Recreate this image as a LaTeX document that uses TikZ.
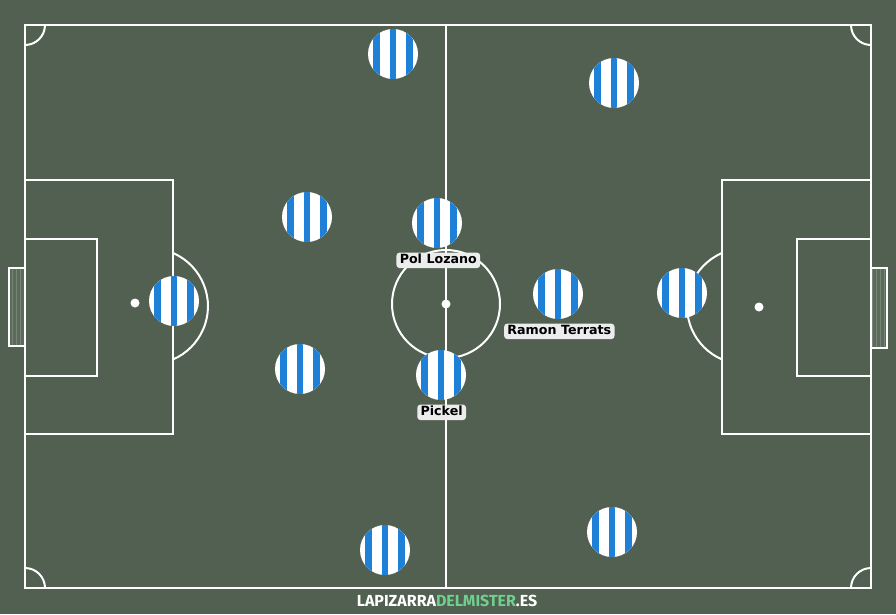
\documentclass[tikz,border=0pt]{standalone}
\usepackage{fontspec}
\usepackage[dvipsnames,usenames]{xcolor}
\usetikzlibrary{positioning}
\newfontfamily\tagfont{DejaVu Sans}
\newfontfamily\markfont{Fira Sans}
\definecolor{pitch}{RGB}{81,96,80}
\definecolor{kitblue}{RGB}{30,128,214}
\definecolor{tagfill}{RGB}{236,236,236}
\definecolor{markgreen}{RGB}{112,206,142}

\begin{document}
\begin{tikzpicture}[x=0.75pt,y=-0.75pt,
    line/.style={draw=white,line width=1.5pt},
    net/.style={draw=white,line width=1pt,fill=white!6!pitch},
    player/.style={circle,fill=white,minimum size=37.5pt,inner sep=0pt,
      path picture={\foreach \d in {-16.5,0,16.5}
        \fill[kitblue] ([xshift=\d*0.75pt-2.3pt]path picture bounding box.north)
        rectangle ([xshift=\d*0.75pt+2.3pt]path picture bounding box.south);}},
    tag/.style={fill=tagfill,rounded corners=2.5pt,inner xsep=2.5pt,inner ysep=1pt,
      text height=7.5pt,text depth=2.2pt,font=\tagfont\bfseries\fontsize{9.5}{10}\selectfont}]
    \fill[pitch] (0,0) rectangle (896,614);
    \useasboundingbox (0,0) rectangle (896,614);
    \draw[net] (9,268) rectangle (25,346);
    \draw[net] (871,268) rectangle (887,348);
    \draw[white,opacity=0.18,line width=0.4pt,step=4] (10,269) grid (24,345);
    \draw[white,opacity=0.18,line width=0.4pt,step=4] (872,269) grid (886,347);
    \draw[line] (25,25) rectangle (871,588);
    \draw[line] (446,25) -- (446,588);
    \draw[line] (446,304) circle[radius=54];
    \fill[white] (446,304) circle[radius=4.5];
    \draw[line] (25,180) rectangle (173,434);
    \draw[line] (25,239) rectangle (97,376);
    \draw[line] (722,180) rectangle (871,434);
    \draw[line] (797,239) rectangle (871,376);
    \fill[white] (135,303) circle[radius=4.5];
    \fill[white] (759,307) circle[radius=4.5];
    \draw[line] (173,253) arc[start angle=-66.6,end angle=66.6,radius=58];
    \draw[line] (722,253) arc[start angle=246.6,end angle=113.4,radius=58];
    \draw[line] (45,25) arc[start angle=0,end angle=90,radius=20];
    \draw[line] (851,25) arc[start angle=180,end angle=90,radius=20];
    \draw[line] (45,588) arc[start angle=0,end angle=-90,radius=20];
    \draw[line] (851,588) arc[start angle=180,end angle=270,radius=20];

    \node[player] (p1) at (393,54) {};
    \node[player] (p2) at (614,83) {};
    \node[player] (p3) at (307,217) {};
    \node[player] (p4) at (437,223) {};
    \node[player] (p5) at (174,301) {};
    \node[player] (p6) at (558,294) {};
    \node[player] (p7) at (682,293) {};
    \node[player] (p8) at (300,369) {};
    \node[player] (p9) at (441,375) {};
    \node[player] (p10) at (385,550) {};
    \node[player] (p11) at (612,532) {};
    \node[tag,below=3pt of p4,xshift=1pt] (t4) {Pol Lozano};
    \node[tag,below=3pt of p6,xshift=1pt] (t6) {Ramon Terrats};
    \node[tag,below=3pt of p9,xshift=0.5pt] (t9) {Pickel};

    \node[font=\markfont\bfseries\fontsize{12}{12}\selectfont,text=white] (mark) at (447,600.5)
      {LAPIZARRA\textcolor{markgreen}{DELMISTER}.ES};
\end{tikzpicture}
\end{document}
